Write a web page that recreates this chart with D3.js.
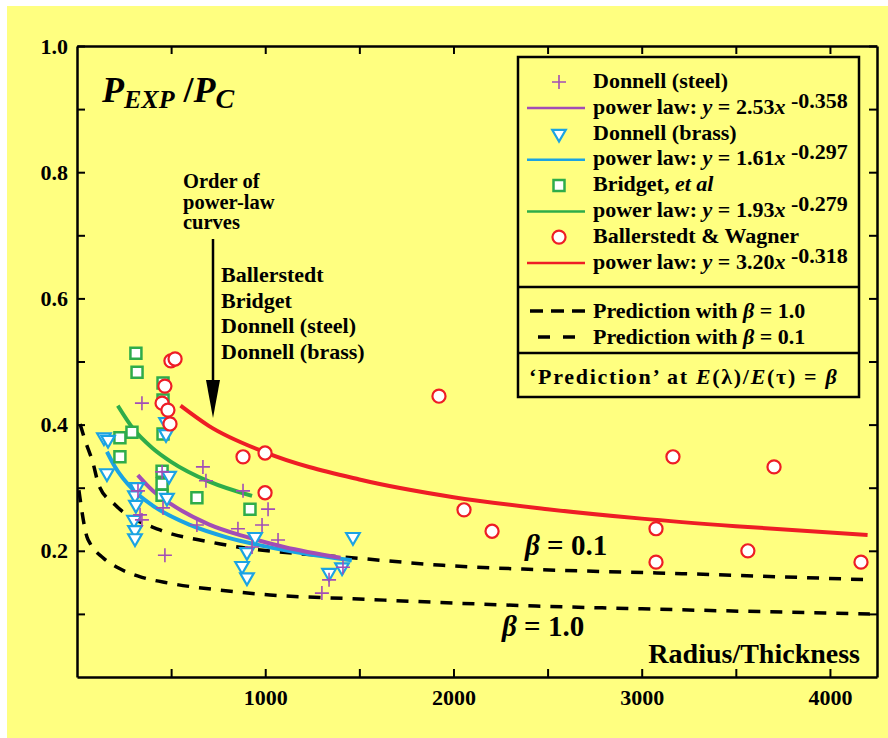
<!DOCTYPE html>
<html>
<head>
<meta charset="utf-8">
<script src="https://cdn.jsdelivr.net/npm/d3@7"></script>
<style>
body { margin: 0; background: #fff; }
svg text { font-family: "Liberation Serif", "Times New Roman", serif; font-weight: bold; fill: #000; }
</style>
</head>
<body>
<svg id="chart" width="888" height="738"></svg>
<script>
// values, each pair is [radius/thickness, P_exp/P_c]
var steelPts = [[345,0.434],[669,0.333],[685,0.311],[452,0.325],[324,0.295],[457,0.268],
    [335,0.257],[345,0.249],[467,0.193],[637,0.241],[882,0.295],[1015,0.266],[983,0.241],
    [855,0.235],[1068,0.217],[930,0.206],[1413,0.174],[1339,0.154],[1301,0.133]];
var brassPts = [[143,0.380],[165,0.376],[159,0.323],[319,0.301],[308,0.288],[313,0.273],
    [303,0.249],[308,0.233],[308,0.220],[473,0.404],[473,0.385],[489,0.319],[478,0.284],
    [946,0.222],[903,0.198],[877,0.176],[903,0.158],[1339,0.165],[1408,0.174],[1466,0.222]];
var bridgetPts = [[313,0.513],[319,0.483],[457,0.466],[457,0.439],[457,0.385],[292,0.388],
    [228,0.379],[228,0.349],[452,0.326],[452,0.306],[452,0.288],[637,0.284],[919,0.266]];
var ballerPts = [[499,0.501],[521,0.504],[467,0.461],[452,0.434],[483,0.423],[494,0.401],
    [882,0.349],[999,0.355],[999,0.292],[1923,0.445],[2056,0.265],[2205,0.231],[3076,0.235],
    [3076,0.182],[3166,0.349],[3564,0.200],[3703,0.333],[4165,0.182]];

// fitted power-law curves as drawn
var steelFit = [[323,0.320],[400,0.296],[500,0.274],[700,0.242],[900,0.222],[1100,0.206],[1400,0.189]];
var brassFit = [[159,0.357],[200,0.334],[300,0.296],[400,0.272],[600,0.241],[800,0.221],
    [1000,0.207],[1200,0.196],[1460,0.185]];
var bridgetFit = [[217,0.430],[300,0.393],[400,0.363],[500,0.341],[700,0.310],[930,0.287]];
var ballerFit = [[550,0.430],[700,0.398],[1000,0.356],[1500,0.313],[2000,0.285],[2500,0.266],
    [3000,0.251],[3500,0.239],[4200,0.225]];

// prediction curves
var beta01 = [[16,0.401],[42,0.376],[85,0.339],[117,0.303],[202,0.273],[441,0.233],[706,0.214],
    [1540,0.187],[1944,0.177],[2369,0.171],[3081,0.165],[4212,0.154]];
var beta10 = [[10,0.296],[53,0.222],[69,0.212],[138,0.189],[218,0.173],[345,0.158],[483,0.149],
    [750,0.138],[1025,0.130],[1466,0.124],[2438,0.1125],[3001,0.108],[4212,0.100]];

var xTicks = [500,1000,1500,2000,2500,3000,3500,4000];
var xLabels = [1000,2000,3000,4000];
var yTicks = [0.1,0.2,0.3,0.4,0.5,0.6,0.7,0.8,0.9,1.0];
var yLabels = ["0.2","0.4","0.6","0.8","1.0"];

var seriesNames = ["Donnell (steel)","Donnell (brass)","Bridget, ","Ballerstedt & Wagner"];
var fitCoef = ["2.53","1.61","1.93","3.20"];
var fitExp = ["-0.358","-0.297","-0.279","-0.318"];
var orderNames = ["Ballerstedt","Bridget","Donnell (steel)","Donnell (brass)"];

var purple = "#a24db6", blue = "#1ba3e3", green = "#2eac4a", red = "#ee1d25";

var svg = d3.select("#chart");
svg.append("rect").attr("x",7).attr("y",6).attr("width",881).attr("height",732).attr("fill","#ffff80");

var x = d3.scaleLinear().domain([0,4250]).range([77,877]);
var y = d3.scaleLinear().domain([0,1]).range([677,46]);

function styleAxis(g) {
    g.select(".domain").attr("stroke","#000").attr("stroke-width",2.5);
    g.selectAll(".tick line").attr("stroke","#000").attr("stroke-width",2);
    g.selectAll(".tick text").attr("font-size",22).attr("font-family",null);
}

svg.append("g").attr("transform","translate(0,677)")
    .call(d3.axisBottom(x).tickValues(xTicks).tickSizeInner(-8).tickSizeOuter(0).tickPadding(12)
        .tickFormat(function(d){ return xLabels.indexOf(d) >= 0 ? d : ""; }))
    .call(styleAxis);
svg.append("g").attr("transform","translate(0,46)")
    .call(d3.axisTop(x).tickValues(xTicks).tickSizeInner(-8).tickSizeOuter(0).tickFormat(""))
    .call(styleAxis);
svg.append("g").attr("transform","translate(77,0)")
    .call(d3.axisLeft(y).tickValues(yTicks).tickSizeInner(-8).tickSizeOuter(0).tickPadding(9)
        .tickFormat(function(d){ var s = d3.format(".1f")(d); return yLabels.indexOf(s) >= 0 ? s : ""; }))
    .call(styleAxis);
svg.append("g").attr("transform","translate(877,0)")
    .call(d3.axisRight(y).tickValues(yTicks).tickSizeInner(-8).tickSizeOuter(0).tickFormat(""))
    .call(styleAxis);

var line = d3.line()
    .x(function(d){ return x(d[0]); })
    .y(function(d){ return y(d[1]); })
    .curve(d3.curveMonotoneX);

// prediction curves
[beta01, beta10].forEach(function(pts) {
    svg.append("path").datum(pts).attr("d",line)
        .attr("fill","none").attr("stroke","#000").attr("stroke-width",3.5)
        .attr("stroke-dasharray","12,10");
});

// power-law fits
[[bridgetFit,green],[brassFit,blue],[steelFit,purple],[ballerFit,red]].forEach(function(f) {
    svg.append("path").datum(f[0]).attr("d",line)
        .attr("fill","none").attr("stroke",f[1]).attr("stroke-width",4);
});

// markers
var sqSym = d3.symbol().type(d3.symbolSquare).size(121);
var triSym = d3.symbol().type(d3.symbolTriangle).size(80);
var cirSym = d3.symbol().type(d3.symbolCircle).size(135);
var crossPath = "M-7,0H7M0,-7V7";

function drawSquare(g, px, py) {
    g.append("path").attr("d",sqSym()).attr("transform","translate("+px+","+py+")")
        .attr("fill","#fff").attr("stroke",green).attr("stroke-width",2.5);
}
function drawTri(g, px, py) {
    g.append("path").attr("d",triSym()).attr("transform","translate("+px+","+py+") rotate(180)")
        .attr("fill","#fff").attr("stroke",blue).attr("stroke-width",2.2);
}
function drawCross(g, px, py) {
    g.append("path").attr("d",crossPath).attr("transform","translate("+px+","+py+")")
        .attr("fill","none").attr("stroke",purple).attr("stroke-width",1.6);
}
function drawCircle(g, px, py) {
    g.append("path").attr("d",cirSym()).attr("transform","translate("+px+","+py+")")
        .attr("fill","#fff").attr("stroke",red).attr("stroke-width",2.2);
}

var marks = svg.append("g");
bridgetPts.forEach(function(d){ drawSquare(marks, x(d[0]), y(d[1])); });
brassPts.forEach(function(d){ drawTri(marks, x(d[0]), y(d[1])); });
steelPts.forEach(function(d){ drawCross(marks, x(d[0]), y(d[1])); });
ballerPts.forEach(function(d){ drawCircle(marks, x(d[0]), y(d[1])); });

// title
var title = svg.append("text").attr("x",102).attr("y",102).attr("font-style","italic");
title.append("tspan").attr("font-size",36).text("P");
title.append("tspan").attr("font-size",26).attr("dy",6).text("EXP");
title.append("tspan").attr("font-size",36).attr("dy",-6).attr("font-style","normal").text(" /");
title.append("tspan").attr("font-size",36).text("P");
title.append("tspan").attr("font-size",28).attr("dy",6).text("C");

// order annotation
["Order of","power-law","curves"].forEach(function(s, i) {
    svg.append("text").attr("x",183).attr("y",188 + i*20.5).attr("font-size",20.5).text(s);
});
svg.append("line").attr("x1",213).attr("x2",213).attr("y1",239).attr("y2",384)
    .attr("stroke","#000").attr("stroke-width",2.5);
svg.append("path").attr("d","M206,380L220,380L213,418Z").attr("fill","#000");
orderNames.forEach(function(s, i) {
    svg.append("text").attr("x",221).attr("y",282 + i*25.7).attr("font-size",22).text(s);
});

// beta labels
function betaLabel(px, py, val) {
    var t = svg.append("text").attr("x",px).attr("y",py).attr("font-size",29);
    t.append("tspan").attr("font-style","italic").text("β");
    t.append("tspan").text(" = " + val);
}
betaLabel(525, 555, "0.1");
betaLabel(502, 636, "1.0");

svg.append("text").attr("x",860).attr("y",663).attr("font-size",28)
    .attr("text-anchor","end").text("Radius/Thickness");

// legend
var leg = svg.append("g");
leg.append("rect").attr("x",518).attr("y",57).attr("width",341).attr("height",340)
    .attr("fill","none").attr("stroke","#000").attr("stroke-width",2.5);
leg.append("line").attr("x1",518).attr("x2",859).attr("y1",287).attr("y2",287)
    .attr("stroke","#000").attr("stroke-width",2.5);
leg.append("line").attr("x1",518).attr("x2",859).attr("y1",353).attr("y2",353)
    .attr("stroke","#000").attr("stroke-width",2.5);

var legColors = [purple, blue, green, red];
var legMarks = [drawCross, drawTri, drawSquare, drawCircle];
seriesNames.forEach(function(name, i) {
    var by = 88 + i*51.7;
    legMarks[i](leg, 559, by - 6);
    var t = leg.append("text").attr("x",593).attr("y",by).attr("font-size",22).text(name);
    if (i === 2) t.append("tspan").attr("font-style","italic").text("et al");
    leg.append("line").attr("x1",527).attr("x2",585).attr("y1",by + 20).attr("y2",by + 20)
        .attr("stroke",legColors[i]).attr("stroke-width",2.5);
    var p = leg.append("text").attr("x",593).attr("y",by + 25.5).attr("font-size",22);
    p.append("tspan").text("power law: ");
    p.append("tspan").attr("font-style","italic").text("y");
    p.append("tspan").text(" = " + fitCoef[i]);
    p.append("tspan").attr("font-style","italic").text("x");
    p.append("tspan").attr("dy",-6).text(" " + fitExp[i]);
});

leg.append("line").attr("x1",530).attr("x2",585).attr("y1",311).attr("y2",311)
    .attr("stroke","#000").attr("stroke-width",3.5).attr("stroke-dasharray","13,8");
leg.append("line").attr("x1",538).attr("x2",575).attr("y1",337).attr("y2",337)
    .attr("stroke","#000").attr("stroke-width",3.5).attr("stroke-dasharray","12,13");
["1.0","0.1"].forEach(function(v, i) {
    var t = leg.append("text").attr("x",593).attr("y",318 + i*25.5).attr("font-size",22);
    t.append("tspan").text("Prediction with ");
    t.append("tspan").attr("font-style","italic").text("β");
    t.append("tspan").text(" = " + v);
});
var pr = leg.append("text").attr("x",529).attr("y",384).attr("font-size",22)
    .attr("letter-spacing",1.7);
pr.append("tspan").text("‘Prediction’ at ");
pr.append("tspan").attr("font-style","italic").text("E");
pr.append("tspan").text("(λ)/");
pr.append("tspan").attr("font-style","italic").text("E");
pr.append("tspan").text("(τ) = ");
pr.append("tspan").attr("font-style","italic").text("β");
</script>
</body>
</html>
